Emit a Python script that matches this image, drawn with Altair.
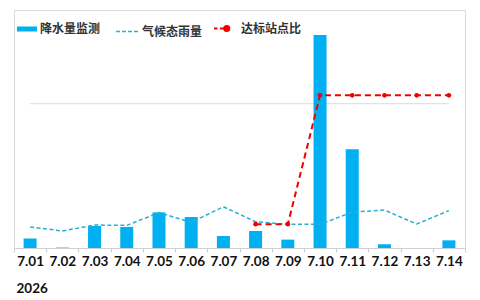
import altair as alt
import pandas as pd

dates = ["7.01", "7.02", "7.03", "7.04", "7.05", "7.06", "7.07",
         "7.08", "7.09", "7.10", "7.11", "7.12", "7.13", "7.14"]
precip = [6.6, 0.3, 15.3, 14.6, 24.7, 21.5, 8.3, 11.8, 5.8, 147.7, 68.4, 2.6, 0, 5.3]
climate = [14.6, 11.8, 15.9, 15.7, 24.5, 17.8, 28.6, 18.2, 16.4, 16.4, 24.9, 26.3, 16.6, 25.9]
ratio_dates = ["7.08", "7.09", "7.10", "7.11", "7.12", "7.13", "7.14"]
ratio = [12, 12, 77, 77, 77, 77, 77]
grid_start = ["7.01"]
grid_end = ["7.14"]
grid_value = [100]

names = ["降水量监测", "气候态雨量", "达标站点比"]
colors = ["#00B0F0", "#2AAED8", "#F00000"]

df_p = pd.DataFrame({"date": dates, "v": precip, "s": names[0]})
df_c = pd.DataFrame({"date": dates, "v": climate, "s": names[1]})
df_r = pd.DataFrame({"date": ratio_dates, "v": ratio, "s": names[2]})
df_g = pd.DataFrame({"date": grid_start, "date2": grid_end, "v": grid_value})

LFONT = "Noto Sans CJK SC"
XFONT = "Lato"

x_enc = alt.X(
    "date:N", sort=dates,
    scale=alt.Scale(domain=dates, paddingInner=0, paddingOuter=0),
    axis=alt.Axis(
        title="2026", labelAngle=0, labelFont=XFONT, labelFontSize=13.5,
        labelFontWeight="bold", labelColor="#111111", tickBand="extent",
        labelAlign="center",
        tickSize=4, tickColor="#c8c8c8", domainColor="#d0d0d0", labelPadding=9,
        titleX=2, titleY=44, titleAnchor="start", titleAlign="left",
        titleBaseline="alphabetic", titleFont=XFONT, titleFontSize=13.5,
        titleFontWeight="bold", titleColor="#111111", grid=False,
    ),
)

mm_scale = alt.Scale(domain=[0, 165], nice=False)


def leg(x, size, symbol, color, offset, dash=None, stroke=1.5, fill=None):
    kw = dict(
        title=None, orient="none", legendX=x, legendY=9, padding=0,
        symbolType=symbol, symbolSize=size, symbolStrokeColor=color,
        symbolStrokeWidth=stroke, labelFont=LFONT, labelFontSize=12,
        labelFontWeight="bold", labelColor="#333333", labelOffset=offset,
    )
    if dash is not None:
        kw["symbolDash"] = dash
    if fill is not None:
        kw["symbolFillColor"] = fill
    return alt.Legend(**kw)


bars = alt.Chart(df_p).mark_bar(width=13).encode(
    x=x_enc,
    y=alt.Y("v:Q", scale=mm_scale, axis=None),
    color=alt.Color("s:N", scale=alt.Scale(domain=[names[0]], range=[colors[0]]),
                    legend=leg(3, 400, "M-1,-0.25L1,-0.25L1,0.25L-1,0.25Z",
                               colors[0], 3, stroke=0, fill=colors[0])),
)

grid = alt.Chart(df_g).mark_rule(color="#d9d9d9", strokeWidth=1).encode(
    x=alt.X("date:N", sort=dates),
    x2="date2:N",
    y=alt.Y("v:Q", scale=mm_scale, axis=None),
)

clim = alt.Chart(df_c).mark_line(strokeDash=[4, 2.5], strokeWidth=1.5).encode(
    x=alt.X("date:N", sort=dates),
    y=alt.Y("v:Q", scale=mm_scale, axis=None),
    color=alt.Color("s:N", scale=alt.Scale(domain=[names[1]], range=[colors[1]]),
                    legend=leg(101, 529, "stroke", colors[1], 2, dash=[4, 2])),
)

red = alt.Chart(df_r).mark_line(
    strokeDash=[6, 4], strokeWidth=2,
    point=alt.OverlayMarkDef(filled=True, size=22, color=colors[2]),
).encode(
    x=alt.X("date:N", sort=dates),
    y=alt.Y("v:Q", scale=alt.Scale(domain=[0, 120], nice=False), axis=None),
    color=alt.Color("s:N", scale=alt.Scale(domain=[names[2]], range=[colors[2]]),
                    legend=leg(199, 289,
                               "M-1,0L-0.6,0M-0.3,0L0.1,0M0.8,0A0.3,0.3,0,1,1,0.2,0A0.3,0.3,0,1,1,0.8,0Z",
                               colors[2], 9, stroke=2, fill=colors[2])),
)

chart = alt.layer(grid, bars, clim, red).resolve_scale(
    y="independent", color="independent"
).properties(
    width=451, height=238,
    autosize=alt.AutoSizeParams(type="none"),
    padding={"left": 14, "top": 10, "right": 15, "bottom": 52},
    background="white",
).configure_view(stroke="#d9d9d9", strokeWidth=1)

chart.save("out.html", embed_options={"renderer": "svg", "actions": False})
